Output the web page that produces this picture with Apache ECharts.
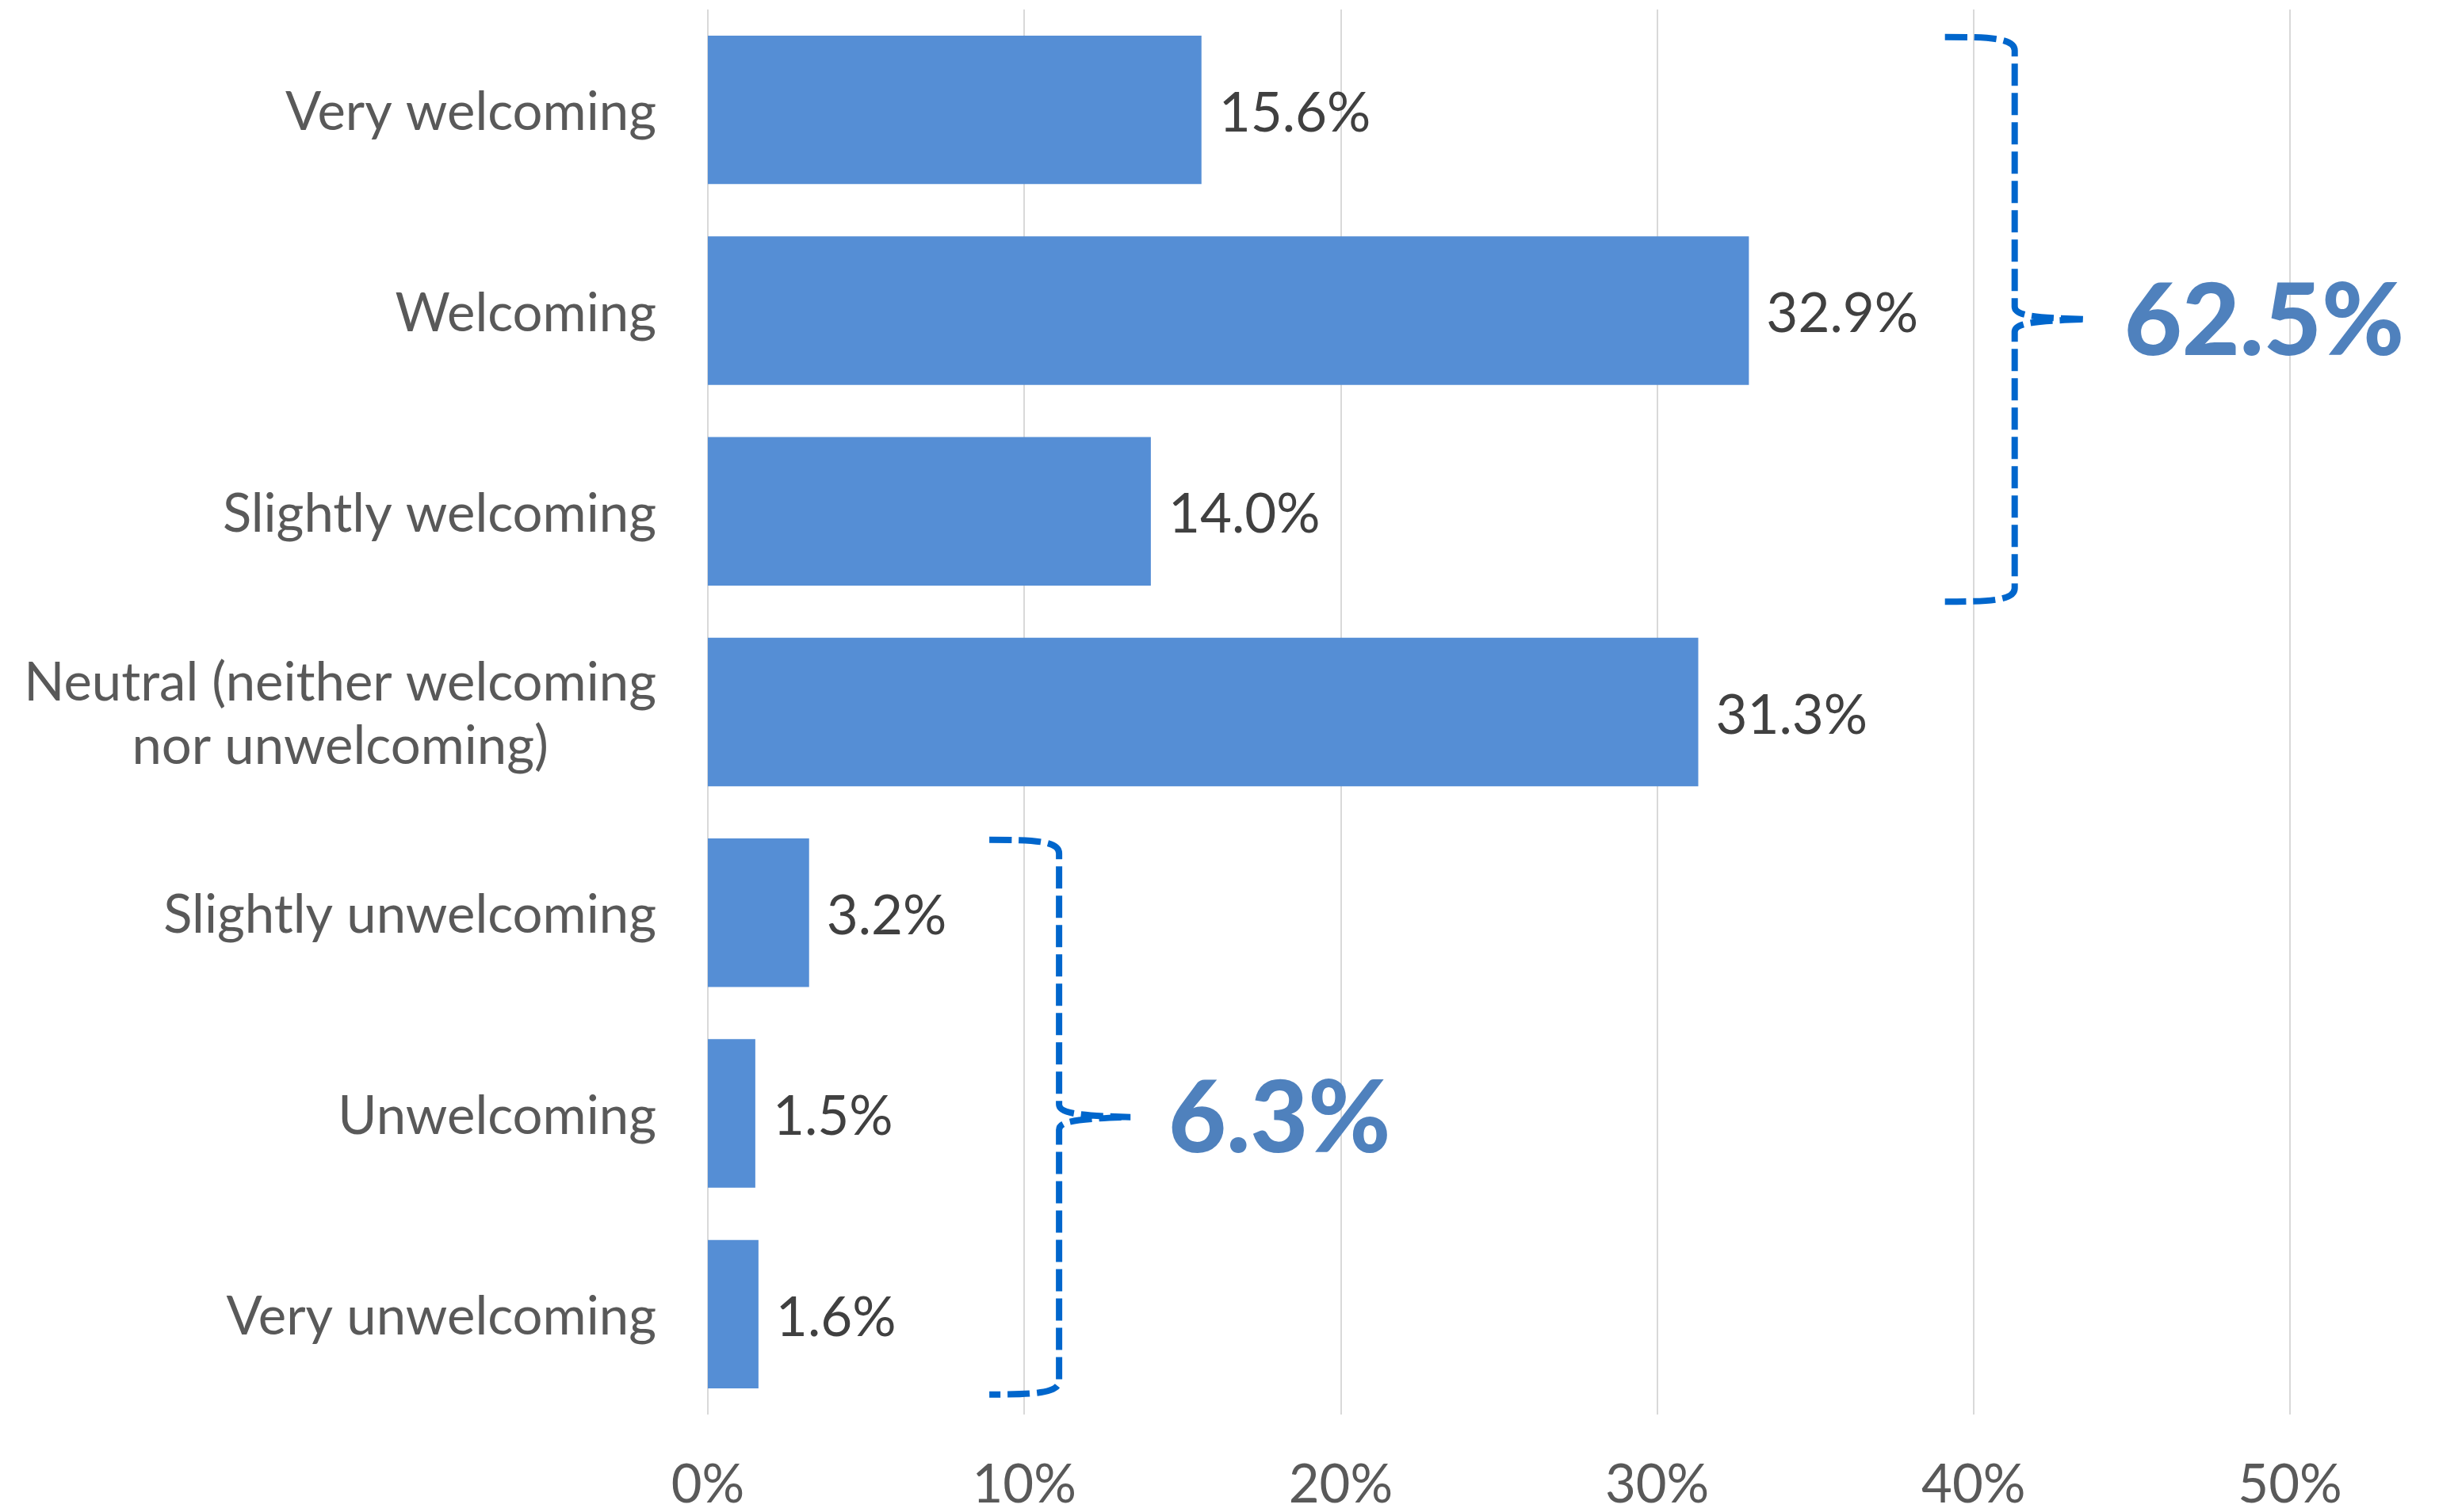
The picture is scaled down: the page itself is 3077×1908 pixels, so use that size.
<!DOCTYPE html>
<html>
<head>
<meta charset="utf-8">
<title>How welcoming</title>
<script src="https://cdn.jsdelivr.net/npm/echarts@6/dist/echarts.min.js"></script>
<style>
  html, body { margin: 0; padding: 0; background: #ffffff; }
  #chart { width: 3077px; height: 1908px; }
</style>
</head>
<body>
<div id="chart"></div>
<script>
// Survey answers, top to bottom
const categories = [
  'Very welcoming',
  'Welcoming',
  'Slightly welcoming',
  'Neutral (neither welcoming\nnor unwelcoming)',
  'Slightly unwelcoming',
  'Unwelcoming',
  'Very unwelcoming'
];
// Share of respondents, percent
const shares = [15.6, 32.9, 14.0, 31.3, 3.2, 1.5, 1.6];
// Percent axis ticks
const tickValues = [0, 10, 20, 30, 40, 50];

// Groups summed by the curly braces: first and last category index
const braceGroups = [
  [0, 2],
  [4, 6]
];

const FONT = 'Lato, "Noto Sans", sans-serif';

// Brace layout: spine position on the percent axis, and how far the arms reach
// above the first bar / below the last bar (in band units)
const braceLayout = [
  { x: 41.3, above: 0.363, below: 0.45 },
  { x: 11.1, above: 0.363, below: 0.40 }
];

const braceData = braceGroups.map((g, i) => {
  let sum = 0;
  for (let k = g[0]; k <= g[1]; k++) sum += shares[k];
  return [braceLayout[i].x, g[0], g[1], Math.round(sum * 10) / 10];
});

const chart = echarts.init(document.getElementById('chart'), null, { renderer: 'canvas' });

function renderBrace(params, api) {
  const lay = braceLayout[params.dataIndex];
  const xv = api.value(0);
  const first = api.value(1);
  const last = api.value(2);
  const total = api.value(3);
  const band = api.size([0, 1])[1];
  const pTop = api.coord([xv, first]);
  const pBot = api.coord([xv, last]);
  const sx = pTop[0];
  const top = pTop[1] - lay.above * band;
  const bottom = pBot[1] + lay.below * band;
  const mid = (top + bottom) / 2;
  const ax = sx - 88;
  const tx = sx + 90;
  const r = 17;
  const path = [
    'M', ax, top,
    'C', ax + 55, top, sx, top + 1, sx, top + r,
    'L', sx, mid - 16,
    'C', sx, mid - 5, sx + 22, mid - 2, tx, mid,
    'C', sx + 22, mid + 2, sx, mid + 5, sx, mid + 16,
    'L', sx, bottom - r,
    'C', sx, bottom - 1, ax + 55, bottom, ax, bottom
  ].join(' ');
  return {
    type: 'group',
    children: [
      {
        type: 'path',
        shape: { pathData: path },
        style: {
          fill: 'none',
          stroke: '#0066CC',
          lineWidth: 8,
          lineDash: [28, 9],
          lineCap: 'butt'
        }
      },
      {
        type: 'text',
        x: tx + 48,
        y: mid + 4,
        style: {
          text: total.toFixed(1) + '%',
          fill: '#4F81BD',
          font: '900 126px ' + FONT,
          align: 'left',
          verticalAlign: 'middle'
        }
      }
    ]
  };
}

const option = {
  backgroundColor: '#ffffff',
  animation: false,
  grid: { left: 893, right: 188, top: 12, bottom: 120, containLabel: false },
  xAxis: {
    type: 'value',
    min: tickValues[0],
    max: tickValues[tickValues.length - 1],
    interval: tickValues[1] - tickValues[0],
    axisLine: { show: false },
    axisTick: { show: false },
    splitLine: { show: true, lineStyle: { color: '#D9D9D9', width: 2 } },
    axisLabel: {
      formatter: '{value}%',
      color: '#595959',
      fontSize: 67,
      fontFamily: FONT,
      margin: 56
    }
  },
  yAxis: {
    type: 'category',
    data: categories,
    inverse: true,
    axisLine: { show: false },
    axisTick: { show: false },
    axisLabel: {
      margin: 65,
      padding: [8, 0, 0, 0],
      formatter: v => v.split('\n').map(l => '{c|' + l + '}').join('\n'),
      rich: {
        c: {
          align: 'center',
          color: '#595959',
          fontSize: 67,
          fontFamily: FONT,
          lineHeight: 80
        }
      }
    }
  },
  series: [
    {
      type: 'bar',
      data: shares,
      barCategoryGap: '26%',
      itemStyle: { color: '#558ED5' },
      label: {
        show: true,
        position: 'right',
        distance: 22,
        offset: [0, 5],
        formatter: p => p.value.toFixed(1) + '%',
        color: '#404040',
        fontSize: 69,
        fontFamily: FONT
      }
    },
    {
      type: 'custom',
      coordinateSystem: 'cartesian2d',
      data: braceData,
      encode: { x: 0, y: 1 },
      renderItem: renderBrace,
      clip: false,
      z: 5,
      silent: true
    }
  ]
};

chart.setOption(option);
</script>
</body>
</html>
